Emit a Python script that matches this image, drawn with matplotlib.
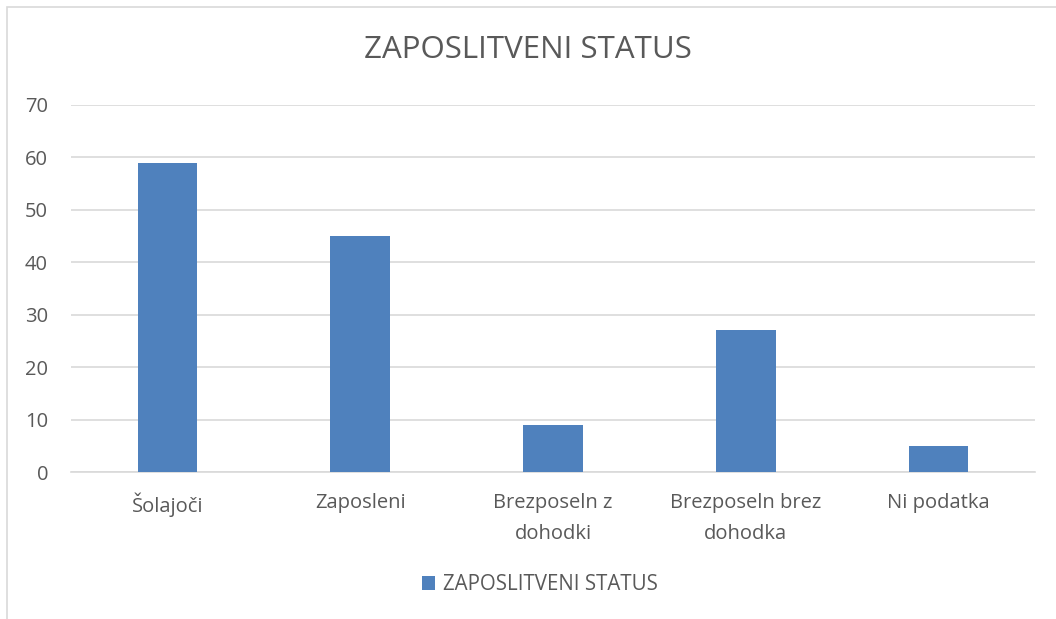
import matplotlib
matplotlib.use("Agg")
import matplotlib.pyplot as plt
from matplotlib.patches import Rectangle, Patch

categories = ["Šolajoči", "Zaposleni", "Brezposeln z\ndohodki", "Brezposeln brez\ndohodka", "Ni podatka"]
values = [59, 45, 9, 27, 5]
yticks = [0, 10, 20, 30, 40, 50, 60, 70]
title = "ZAPOSLITVENI STATUS"
series_name = "ZAPOSLITVENI STATUS"

plt.rcParams['font.family'] = ['Open Sans', 'DejaVu Sans']
TXT = "#595959"
GRID = "#d9d9d9"
BAR = "#4f81bd"

W, H = 1056, 619
fig = plt.figure(figsize=(W / 100, H / 100), dpi=100)
fig.patch.set_facecolor("white")

# chart border (extends past right/bottom edges)
fig.patches.append(Rectangle((7 / W, -0.1), 1.2, 1 - 7 / H + 0.1, transform=fig.transFigure,
                             fill=False, edgecolor=GRID, linewidth=1.2))

x0, x1 = 71, 1035
ytop, ybot = 105, 472
ax = fig.add_axes([x0 / W, 1 - ybot / H, (x1 - x0) / W, (ybot - ytop) / H])
xs = list(range(len(categories)))
ax.bar(xs, values, width=0.31, color=BAR, zorder=3)
ax.set_xlim(-0.5, len(categories) - 0.5)
ax.set_ylim(0, 70)
ax.set_yticks(yticks)
ax.set_yticklabels([str(v) for v in yticks], fontsize=14.5, color=TXT)
ax.set_xticks(xs)
ax.set_xticklabels(categories, fontsize=14.5, color=TXT)
for lbl in ax.get_xticklabels():
    lbl.set_linespacing(1.75)
ax.tick_params(axis='both', length=0)
ax.tick_params(axis='y', pad=16.5)
ax.tick_params(axis='x', pad=15)
ax.grid(axis='y', color=GRID, linewidth=1.2, zorder=0)
for s in ["top", "right", "left"]:
    ax.spines[s].set_visible(False)
ax.spines["bottom"].set_color(GRID)
ax.spines["bottom"].set_linewidth(1.2)

fig.text(0.5, 1 - 50 / H, title, ha="center", va="center", fontsize=22.5, color=TXT)

fig.legend(handles=[Patch(facecolor=BAR, label=series_name)], loc="center",
           bbox_to_anchor=(540 / W, 1 - 585 / H), frameon=False, fontsize=14.8,
           labelcolor=TXT, handlelength=0.65, handleheight=0.65, handletextpad=0.4)

fig.savefig("out.png", dpi=100, facecolor="white")
